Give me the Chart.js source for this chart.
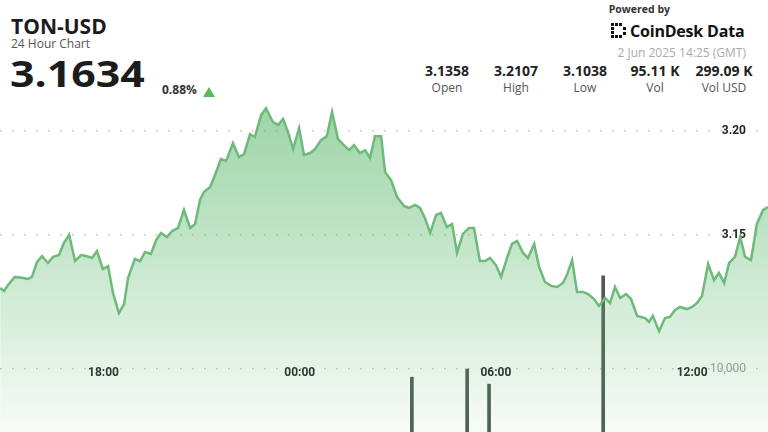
<!DOCTYPE html>
<html lang="en">
<head>
    <meta charset="UTF-8">
    <title>TON-USD 24 Hour Chart</title>
    <script src="https://cdn.jsdelivr.net/npm/chart.js"></script>
    <style>
        html, body { margin: 0; padding: 0; background: #fff; }
        body { width: 768px; height: 432px; position: relative; overflow: hidden; font-family: "Open Sans", sans-serif; color: #1c1c1c; }
        .abs { position: absolute; white-space: nowrap; }
        #pair { left: 11px; top: 16px; font-size: 21px; font-weight: 700; line-height: 21px; }
        #sub { left: 11px; top: 38px; font-size: 12px; color: #555; line-height: 12px; }
        #last { left: 10px; top: 56px; font-size: 36px; font-weight: 700; line-height: 36px; transform: scaleX(1.19); transform-origin: left top; }
        #chg { left: 162px; top: 83px; font-size: 12px; font-weight: 700; line-height: 14px; color: #333; }
        #tri { left: 203px; top: 87px; width: 0; height: 0; border-left: 6px solid transparent; border-right: 6px solid transparent; border-bottom: 10px solid #5cb860; }
        #powered { right: 98px; top: 2px; font-size: 10.5px; font-weight: 700; line-height: 14px; color: #333; }
        #brand { left: 611px; top: 22px; height: 18px; display: flex; align-items: center; }
        #brand span { font-size: 16px; font-weight: 700; line-height: 18px; margin-left: 3px; letter-spacing: -0.2px; color: #111; }
        #stamp { right: 22px; top: 45px; font-size: 12px; line-height: 16px; color: #aaa; }
        .stat { width: 80px; text-align: center; }
        .stat b { display: block; font-size: 14px; line-height: 16px; color: #222; }
        .stat i { display: block; font-style: normal; font-size: 12px; line-height: 14px; color: #555; margin-top: 2px; }
        #wrap { position: absolute; left: 0; top: 100px; width: 768px; height: 332px; }
    </style>
</head>
<body>
    <div class="abs" id="pair">TON-USD</div>
    <div class="abs" id="sub">24 Hour Chart</div>
    <div class="abs" id="last">3.1634</div>
    <div class="abs" id="chg">0.88%</div>
    <div class="abs" id="tri"></div>

    <div class="abs" id="powered">Powered by</div>
    <div class="abs" id="brand">
        <svg width="16" height="16" viewBox="0 0 16 16">
            <rect x="0" y="0" width="3" height="3" fill="#111"/><rect x="4" y="0" width="3" height="3" fill="#111"/><rect x="8" y="0" width="3" height="3" fill="#111"/>
            <rect x="0" y="4" width="3" height="3" fill="#111"/><rect x="0" y="8" width="3" height="3" fill="#111"/>
            <rect x="0" y="12" width="3" height="3" fill="#111"/><rect x="4" y="12" width="3" height="3" fill="#111"/><rect x="8" y="12" width="3" height="3" fill="#111"/>
            <rect x="12" y="4" width="3" height="3" fill="#111"/><rect x="12" y="9" width="3" height="3" fill="#111"/>
        </svg>
        <span>CoinDesk Data</span>
    </div>
    <div class="abs" id="stamp">2 Jun 2025 14:25 (GMT)</div>

    <div class="abs stat" style="left:407px; top:63px;"><b>3.1358</b><i>Open</i></div>
    <div class="abs stat" style="left:476px; top:63px;"><b>3.2107</b><i>High</i></div>
    <div class="abs stat" style="left:545px; top:63px;"><b>3.1038</b><i>Low</i></div>
    <div class="abs stat" style="left:615px; top:63px;"><b>95.11 K</b><i>Vol</i></div>
    <div class="abs stat" style="left:684px; top:63px;"><b>299.09 K</b><i>Vol USD</i></div>

    <div id="wrap"><canvas id="priceChart" width="768" height="332"></canvas></div>

    <script>
        // hours since 00:00 on 1 Jun (24 = midnight, 38.32 = 14:19 on 2 Jun)
        const priceTimes = [
            14.84, 14.96, 15.08, 15.29, 15.54, 15.69, 15.81, 15.97, 16.12, 16.30,
            16.46, 16.64, 16.79, 16.95, 17.13, 17.31, 17.47, 17.65, 17.80, 17.98,
            18.14, 18.29, 18.47, 18.63, 18.75, 18.96, 19.12, 19.27, 19.45, 19.61,
            19.76, 19.94, 20.10, 20.28, 20.46, 20.65, 20.80, 20.95, 21.07, 21.26,
            21.41, 21.59, 21.75, 21.96, 22.14, 22.30, 22.48, 22.63, 22.82, 22.97,
            23.18, 23.34, 23.49, 23.64, 23.80, 23.98, 24.13, 24.32, 24.47, 24.65,
            24.83, 24.99, 25.17, 25.32, 25.51, 25.66, 25.84, 26.00, 26.15, 26.30,
            26.49, 26.61, 26.79, 26.98, 27.19, 27.34, 27.53, 27.68, 27.83, 27.99,
            28.17, 28.32, 28.50, 28.66, 28.81, 28.99, 29.18, 29.33, 29.51, 29.67,
            29.82, 30.00, 30.16, 30.34, 30.49, 30.65, 30.83, 30.98, 31.17, 31.32,
            31.50, 31.69, 31.87, 32.05, 32.17, 32.33, 32.48, 32.66, 32.82, 33.00,
            33.15, 33.34, 33.49, 33.64, 33.80, 33.98, 34.13, 34.32, 34.56, 34.68,
            34.80, 34.99, 35.17, 35.32, 35.48, 35.63, 35.84, 36.00, 36.15, 36.30,
            36.49, 36.67, 36.82, 36.98, 37.13, 37.31, 37.47, 37.62, 37.80, 37.98,
            38.17, 38.32
        ];
        const prices = [
            3.1246, 3.1232, 3.1260, 3.1299, 3.1294, 3.1289, 3.1299, 3.1371, 3.1399, 3.1366,
            3.1395, 3.1404, 3.1462, 3.1500, 3.1375, 3.1404, 3.1399, 3.1390, 3.1423, 3.1337,
            3.1351, 3.1222, 3.1126, 3.1169, 3.1294, 3.1385, 3.1375, 3.1418, 3.1409, 3.1476,
            3.1510, 3.1490, 3.1519, 3.1534, 3.1620, 3.1534, 3.1553, 3.1668, 3.1706, 3.1730,
            3.1788, 3.1864, 3.1855, 3.1941, 3.1874, 3.1888, 3.1984, 3.1970, 3.2075, 3.2107,
            3.2042, 3.2027, 3.2056, 3.1994, 3.1912, 3.2013, 3.1884, 3.1893, 3.1912, 3.1955,
            3.1974, 3.2090, 3.1960, 3.1936, 3.1907, 3.1931, 3.1893, 3.1907, 3.1869, 3.1974,
            3.1974, 3.1802, 3.1764, 3.1682, 3.1639, 3.1630, 3.1644, 3.1630, 3.1581, 3.1510,
            3.1596, 3.1606, 3.1538, 3.1553, 3.1414, 3.1505, 3.1534, 3.1534, 3.1375, 3.1375,
            3.1390, 3.1356, 3.1299, 3.1390, 3.1457, 3.1471, 3.1414, 3.1390, 3.1457, 3.1347,
            3.1275, 3.1256, 3.1251, 3.1270, 3.1308, 3.1380, 3.1227, 3.1227, 3.1217, 3.1193,
            3.1160, 3.1198, 3.1174, 3.1251, 3.1198, 3.1217, 3.1193, 3.1112, 3.1102, 3.1083,
            3.1112, 3.1038, 3.1102, 3.1107, 3.1141, 3.1155, 3.1145, 3.1155, 3.1174, 3.1208,
            3.1361, 3.1284, 3.1318, 3.1270, 3.1366, 3.1395, 3.1490, 3.1395, 3.1380, 3.1553,
            3.1620, 3.1634
        ];
        const volumeTimes = [27.43, 29.12, 29.79, 33.28];
        const volumes = [8700, 10000, 7600, 24800];

        const timeTicks = [18, 24, 30, 36];
        const timeTickLabels = ["18:00", "00:00", "06:00", "12:00"];
        const priceTicks = [3.15, 3.20];
        const volumeTicks = [10000];

        const lineColor = "#6dba7b";
        const gridDash = [1.5, 10.5];

        function greenFill(context) {
            const area = context.chart.chartArea;
            if (!area) return "rgba(95, 185, 110, 0.3)";
            const g = context.chart.ctx.createLinearGradient(0, area.top, 0, area.bottom);
            g.addColorStop(0, "rgba(95, 185, 110, 0.62)");
            g.addColorStop(1, "rgba(95, 185, 110, 0.05)");
            return g;
        }

        new Chart(document.getElementById("priceChart"), {
            type: "line",
            data: {
                datasets: [
                    {
                        label: "Price",
                        data: priceTimes.map((t, i) => ({ x: t, y: prices[i] })),
                        yAxisID: "price",
                        borderColor: lineColor,
                        borderWidth: 2.5,
                        backgroundColor: greenFill,
                        fill: "start",
                        tension: 0,
                        pointRadius: 0,
                        order: 0
                    },
                    {
                        type: "bar",
                        label: "Volume",
                        data: volumeTimes.map((t, i) => ({ x: t, y: volumes[i] })),
                        yAxisID: "vol",
                        backgroundColor: "#505a53",
                        barThickness: 3,
                        order: 1
                    }
                ]
            },
            options: {
                responsive: false,
                animation: false,
                devicePixelRatio: 1,
                layout: { padding: 0 },
                plugins: { legend: { display: false }, tooltip: { enabled: false } },
                scales: {
                    x: {
                        type: "linear",
                        position: "bottom",
                        min: 14.835,
                        max: 38.32,
                        offset: false,
                        grid: { display: false },
                        border: { display: false },
                        afterBuildTicks: (axis) => { axis.ticks = timeTicks.map(v => ({ value: v })); },
                        afterFit: (axis) => { axis.height = 0; },
                        ticks: {
                            mirror: true,
                            padding: 52,
                            maxRotation: 0,
                            autoSkip: false,
                            color: "#222",
                            font: { family: "Roboto", size: 12, weight: "bold" },
                            callback: (v) => timeTickLabels[timeTicks.indexOf(v)]
                        }
                    },
                    price: {
                        type: "linear",
                        position: "right",
                        min: 3.05556,
                        max: 3.21472,
                        grid: { color: "#c4c4c4", lineWidth: 1.5, drawTicks: false },
                        border: { display: false, dash: gridDash },
                        afterBuildTicks: (axis) => { axis.ticks = priceTicks.map(v => ({ value: v })); },
                        afterFit: (axis) => { axis.width = 0; axis.paddingTop = 0; axis.paddingBottom = 0; },
                        ticks: {
                            mirror: true,
                            padding: -22,
                            color: "#222",
                            font: { family: "Roboto", size: 12, weight: "bold" },
                            callback: (v) => v.toFixed(2)
                        }
                    },
                    vol: {
                        type: "linear",
                        position: "right",
                        min: 0,
                        max: 52700,
                        grid: { color: "#c4c4c4", lineWidth: 1.5, drawTicks: false },
                        border: { display: false, dash: gridDash },
                        afterBuildTicks: (axis) => { axis.ticks = volumeTicks.map(v => ({ value: v })); },
                        afterFit: (axis) => { axis.width = 0; axis.paddingTop = 0; axis.paddingBottom = 0; },
                        ticks: {
                            mirror: true,
                            padding: -22,
                            color: "#999",
                            font: { family: "Roboto", size: 12 },
                            callback: (v) => v.toLocaleString("en-US")
                        }
                    }
                }
            }
        });
    </script>
</body>
</html>
